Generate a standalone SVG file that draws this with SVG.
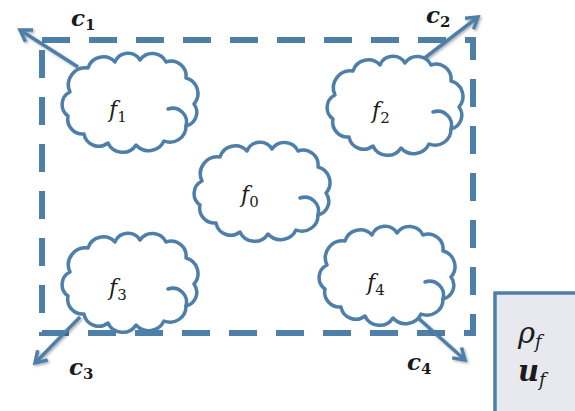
<svg xmlns="http://www.w3.org/2000/svg" xmlns:xlink="http://www.w3.org/1999/xlink" width="575" height="411" viewBox="0 0 575 411">
<style>
.cloud{fill:#fff;stroke:#4e7fa9;stroke-width:3.5;stroke-linejoin:round;stroke-linecap:round}
.hook{fill:none;stroke:#4e7fa9;stroke-width:3.5;stroke-linecap:round}
.frame{fill:none;stroke:#4e7fa9;stroke-width:6;stroke-dasharray:28 19}
.vec{fill:none;stroke:#4e7fa9;stroke-width:3.5;marker-end:url(#ah);filter:url(#sh)}
.m{font-family:"DejaVu Serif","Liberation Serif",serif;font-style:italic;fill:#1a1a1a}
.b{font-weight:bold}
</style>
<defs>
<filter id="sh" x="-20%" y="-20%" width="140%" height="140%">
<feDropShadow dx="1.5" dy="1.5" stdDeviation="1.2" flood-color="#000" flood-opacity="0.3"/>
</filter>
<marker id="ah" markerUnits="userSpaceOnUse" markerWidth="20" markerHeight="20" refX="0" refY="0" viewBox="-14 -10 16 20" orient="auto">
<path d="M -11 -7 L 0 0 L -11 7" fill="none" stroke="#4e7fa9" stroke-width="3.5" stroke-linejoin="miter"/>
</marker>
<g id="cl">
<path class="cloud" d="M10 38 A17 17 0 0 1 28 14 A16 16 0 0 1 55 8 A14 14 0 0 1 80 6 A15 15 0 0 1 106 8 A15 15 0 0 1 126 24 A16 16 0 0 1 134 50 A14 14 0 0 1 126 72 A16 16 0 0 1 104 87 A17 17 0 0 1 76 91 A16 16 0 0 1 48 89 A15 15 0 0 1 24 80 A15 15 0 0 1 8 62 A14 14 0 0 1 10 38 Z"/>
<path class="hook" d="M108 55 A14 14 0 0 1 126 72"/>
</g>
</defs>
<rect class="frame" x="42" y="40" width="431" height="293"/>
<g id="connectors">
<line class="vec" x1="78" y1="67" x2="20" y2="30"/>
<line class="vec" x1="422" y1="60" x2="478" y2="17"/>
<line class="vec" x1="80" y1="317" x2="35" y2="363"/>
<line class="vec" x1="417" y1="317" x2="465" y2="360"/>
</g>
<g id="f1"><use xlink:href="#cl" transform="translate(60,54)"/><text class="m" x="109" y="117" font-size="22">f<tspan font-size="15" font-style="normal" dy="5">1</tspan></text></g>
<g id="f2"><use xlink:href="#cl" transform="translate(325,57)"/><text class="m" x="372" y="118" font-size="22">f<tspan font-size="15" font-style="normal" dy="5">2</tspan></text></g>
<g id="f0"><use xlink:href="#cl" transform="translate(192,143)"/><text class="m" x="241" y="202" font-size="22">f<tspan font-size="15" font-style="normal" dy="5">0</tspan></text></g>
<g id="f3"><use xlink:href="#cl" transform="translate(60,234)"/><text class="m" x="109" y="295" font-size="22">f<tspan font-size="15" font-style="normal" dy="5">3</tspan></text></g>
<g id="f4"><use xlink:href="#cl" transform="translate(317,227)"/><text class="m" x="367" y="290" font-size="22">f<tspan font-size="15" font-style="normal" dy="5">4</tspan></text></g>
<g id="c-labels">
<text class="m b" x="71" y="26" font-size="23">c<tspan font-size="15" font-style="normal" dy="4">1</tspan></text>
<text class="m b" x="426" y="23" font-size="23">c<tspan font-size="15" font-style="normal" dy="4">2</tspan></text>
<text class="m b" x="69" y="375" font-size="23">c<tspan font-size="15" font-style="normal" dy="4">3</tspan></text>
<text class="m b" x="407" y="370" font-size="23">c<tspan font-size="15" font-style="normal" dy="4">4</tspan></text>
</g>
<g id="state">
<rect x="495" y="293" width="84" height="122" fill="#e7e9ee" stroke="#4e7fa9" stroke-width="3.5"/>
<text class="m" x="518" y="343" font-size="29">ρ<tspan font-size="18" dy="5">f</tspan></text>
<text class="m b" x="518" y="381" font-size="29">u<tspan font-size="18" font-weight="normal" dy="5">f</tspan></text>
</g>
</svg>
